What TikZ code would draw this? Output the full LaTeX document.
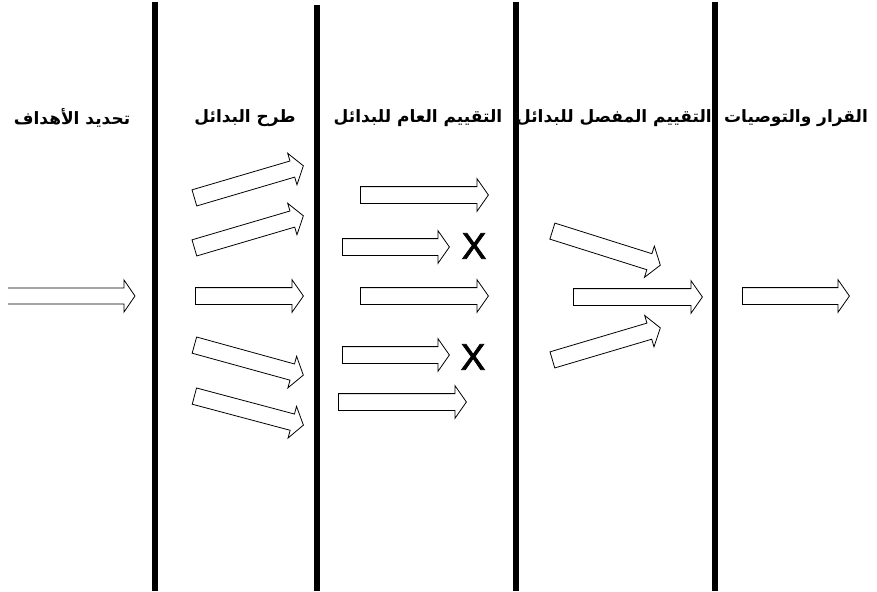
\documentclass[tikz,border=0pt]{standalone}
\usepackage{fontspec}
\setmainfont{Liberation Sans}
\newfontfamily\arabicfont[Script=Arabic]{DejaVu Sans}
\newfontfamily\scartofont[FakeBold=2]{Liberation Sans}
\TeXXeTstate=1
\usetikzlibrary{shapes.arrows}

\tikzset{
	freccia/.style={single arrow, draw, fill=white, line width=0.8pt, inner sep=0pt, inner ysep=8pt,
		single arrow head extend=8pt, single arrow tip angle=110, anchor=tail},
	barra/.style={line width=6pt},
	titolo/.style={font=\arabicfont\bfseries\fontsize{17}{19}\selectfont},
	scarto/.style={font=\scartofont\fontsize{37}{37}\selectfont, inner sep=0pt}
}

\begin{document}
\begin{tikzpicture}[x=1pt, y=-1pt]
	\useasboundingbox (0,0) rectangle (877,591);
	
	% Barre di separazione delle fasi
	\draw[barra] (155,2) -- (155,591);
	\draw[barra] (317,5) -- (317,591);
	\draw[barra] (516,2) -- (516,591);
	\draw[barra] (715,2) -- (715,591);
	
	% Titoli delle fasi
	\node[titolo] (obiettivi) at (72,118) {\beginR تحديد الأهداف\endR};
	\node[titolo] (proposta) at (245,118) {\beginR طرح البدائل\endR};
	\node[titolo] (generale) at (418,118) {\beginR التقييم العام للبدائل\endR};
	\node[titolo] (dettaglio) at (614,118) {\beginR التقييم المفصل للبدائل\endR};
	\node[titolo] (decisione) at (796,118) {\beginR القرار والتوصيات\endR};
	
	% Freccia d'ingresso
	\draw[line width=0.8pt] (8,288) -- (124,288) -- (124,280) -- (135,296) -- (124,312) -- (124,304) -- (8,304);
	
	% Alternative proposte
	\node[freccia, minimum height=113.6pt, rotate=16.4] (alt1) at (194,198) {};
	\node[freccia, minimum height=113.6pt, rotate=16.4] (alt2) at (194,248) {};
	\node[freccia, minimum height=108pt] (alt3) at (195,296) {};
	\node[freccia, minimum height=113pt, rotate=-15.4] (alt4) at (194,345) {};
	\node[freccia, minimum height=112.8pt, rotate=-14.9] (alt5) at (194,396) {};
	
	% Valutazione generale
	\node[freccia, minimum height=128pt] (val1) at (360,195) {};
	\node[freccia, minimum height=107pt] (val2) at (342,247) {};
	\node[scarto] (no2) at (474,246) {X};
	\node[freccia, minimum height=128pt] (val3) at (360,296) {};
	\node[freccia, minimum height=107pt] (val4) at (342,355) {};
	\node[scarto] (no4) at (473,357) {X};
	\node[freccia, minimum height=128pt] (val5) at (338,402) {};
	
	% Valutazione dettagliata
	\node[freccia, minimum height=113.2pt, rotate=-17.5] (det1) at (552,231) {};
	\node[freccia, minimum height=129pt] (det2) at (573,297) {};
	\node[freccia, minimum height=112.6pt, rotate=16.5] (det3) at (552,360) {};
	
	% Decisione finale
	\node[freccia, minimum height=107pt] (finale) at (742,296) {};
\end{tikzpicture}
\end{document}
